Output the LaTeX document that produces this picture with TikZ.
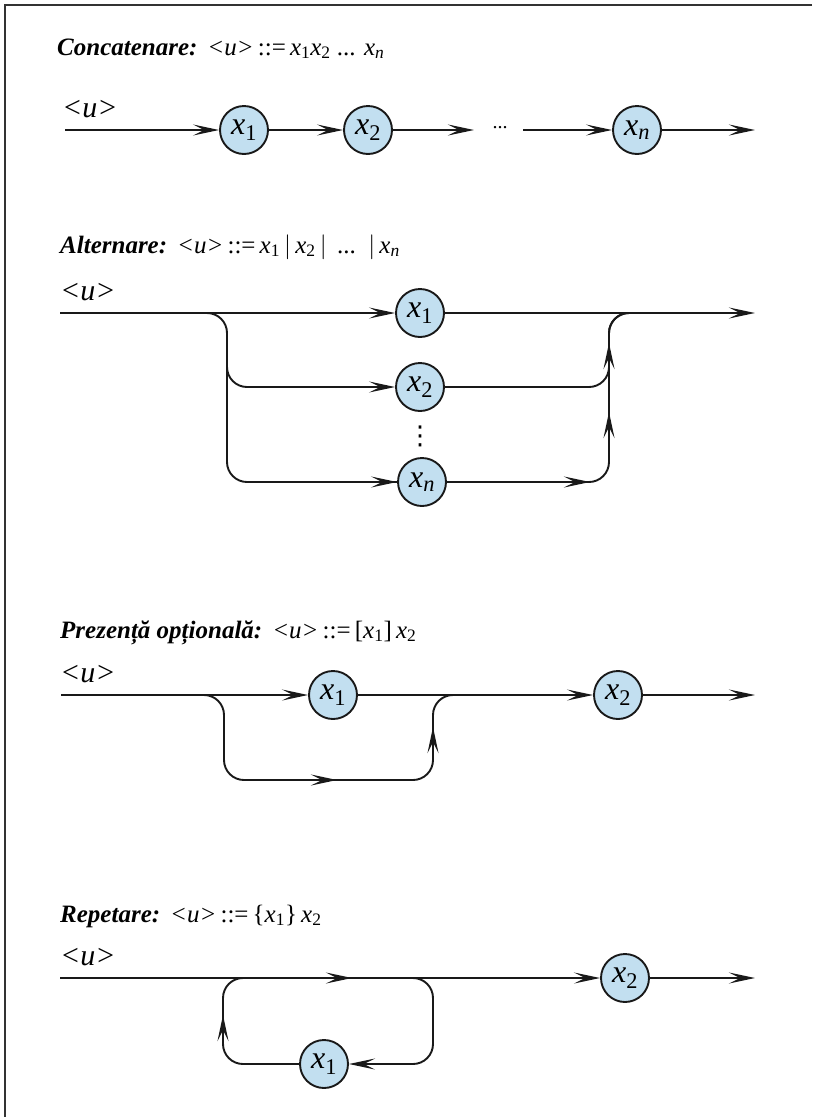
\documentclass[tikz,border=0pt]{standalone}
\usepackage{fontspec}
\setmainfont{Liberation Serif}
\newfontfamily\dotsfont{DejaVu Sans}
\usetikzlibrary{arrows.meta, positioning}

\definecolor{symblue}{RGB}{194,223,240}

\tikzset{
  sym/.style={circle, draw=black!90, fill=symblue, line width=1.9pt, minimum size=48pt,
    inner sep=0pt, font=\fontsize{32}{32}\selectfont\itshape},
  arr/.style={line width=1.9pt, draw=black!90, -{Stealth[length=26pt,width=11pt,inset=11pt]}},
  ln/.style={line width=1.9pt, draw=black!90},
  roundline/.style={ln, rounded corners=20pt},
  ttl/.style={anchor=base west, inner sep=0pt, font=\fontsize{25}{26}\selectfont},
  lbl/.style={anchor=base west, inner sep=0pt, font=\fontsize{30}{30}\selectfont\itshape},
}
\newcommand{\xsub}[1]{x\textsubscript{#1}}
\newcommand{\xs}[1]{\textit{x\textsubscript{#1}}}
\newcommand{\head}[1]{\textbf{\textit{#1}}\hspace{10pt}}

\begin{document}
\begin{tikzpicture}[x=1pt, y=-1pt]
\useasboundingbox (0,0) rectangle (812,1117);
% frame
\draw[line width=2pt, black!80] (812,5) -- (5,5) -- (5,1117);

% Concatenare
\node[ttl] (t1) at (57,55) {\head{Concatenare:}\textit{<u>}\,::=\,\xs{\upshape 1}\xs{\upshape 2} ... \xs{n}};
\node[lbl] (u1) at (62,117) {<u>};
\coordinate (a0) at (65,130);
\node[sym] (a1) at (244,130) {\xsub{\upshape 1}};
\node[sym] (a2) at (368,130) {\xsub{\upshape 2}};
\coordinate (a3) at (474,130);
\node[font=\fontsize{20}{20}\selectfont] (adots) at (500,128) {...};
\coordinate (a4) at (523,130);
\node[sym] (an) at (637,130) {\xsub{n}};
\coordinate (a9) at (755,130);
\draw[arr] (a0) -- (a1);
\draw[arr] (a1) -- (a2);
\draw[arr] (a2) -- (a3);
\draw[arr] (a4) -- (an);
\draw[arr] (an) -- (a9);

% Alternare
\node[ttl] (t2) at (60,253) {\head{Alternare:}\textit{<u>}\,::=\,\xs{\upshape 1}\,$|$\,\xs{\upshape 2}\,$|$\, ... \,$|$\,\xs{n}};
\node[lbl] (u2) at (60,300) {<u>};
\coordinate (b0) at (60,313);
\node[sym] (b1) at (420,313) {\xsub{\upshape 1}};
\node[sym] (b2) at (420,387) {\xsub{\upshape 2}};
\node[inner sep=0pt, font=\fontsize{26}{26}\dotsfont] (bdots) at (420,436) {⋮};
\node[sym] (bn) at (422,482) {\xsub{n}};
\coordinate (b9) at (755,313);
\coordinate (bs) at (190,313);
\coordinate (bl) at (227,482);
\coordinate (bq) at (270,482);
\coordinate (bm) at (227,347);
\coordinate (bj) at (609,313);
\coordinate (bk) at (645,313);
\coordinate (be) at (590,482);
\draw[arr] (b0) -- (b1);
\draw[arr] (b1) -- (b9);
\draw[roundline] (bs) -| (bl) -- (bn.west);
\draw[arr, rounded corners=20pt] (bm) |- (b2);
\draw[arr] (bq) -- (bn);
\draw[roundline] (b2) -| (bj) -- (bk);
\draw[roundline] (bn) -| (bj) -- (bk);
\draw[arr] (bn) -- (be);
\draw[arr] (609,372) -- (609,343);
\draw[arr] (609,440) -- (609,412);

% Prezenta optionala
\node[ttl] (t3) at (60,638) {\head{Prezență opțională:}\textit{<u>}\,::=\,[\xs{\upshape 1}]\,\xs{\upshape 2}};
\node[lbl] (u3) at (60,682) {<u>};
\coordinate (c0) at (61,695);
\node[sym] (c1) at (333,695) {\xsub{\upshape 1}};
\node[sym] (c2) at (618,695) {\xsub{\upshape 2}};
\coordinate (c9) at (755,695);
\coordinate (cs) at (185,695);
\coordinate (cl) at (224,780);
\coordinate (cr) at (433,695);
\coordinate (ck) at (470,695);
\draw[arr] (c0) -- (c1);
\draw[arr] (c1) -- (c2);
\draw[arr] (c2) -- (c9);
\draw[roundline] (cs) -| (cl) -| (cr) -- (ck);
\draw[arr] (300,780) -- (337,780);
\draw[arr] (433,755) -- (433,727);

% Repetare
\node[ttl] (t4) at (60,922) {\head{Repetare:}\textit{<u>}\,::=\,\{\xs{\upshape 1}\}\,\xs{\upshape 2}};
\node[lbl] (u4) at (60,965) {<u>};
\coordinate (d0) at (60,978);
\node[sym] (d1) at (324,1064) {\xsub{\upshape 1}};
\node[sym] (d2) at (625,978) {\xsub{\upshape 2}};
\coordinate (d9) at (755,978);
\coordinate (dl) at (223,978);
\coordinate (dt) at (265,978);
\coordinate (ds) at (395,978);
\coordinate (dr) at (433,1064);
\draw[arr] (d0) -- (d2);
\draw[arr] (d2) -- (d9);
\draw[arr] (320,978) -- (352,978);
\draw[roundline] (d1) -| (dl) -- (dt);
\draw[arr, rounded corners=20pt] (ds) -| (dr) -- (d1);
\draw[arr] (223,1040) -- (223,1015);
\end{tikzpicture}
\end{document}
